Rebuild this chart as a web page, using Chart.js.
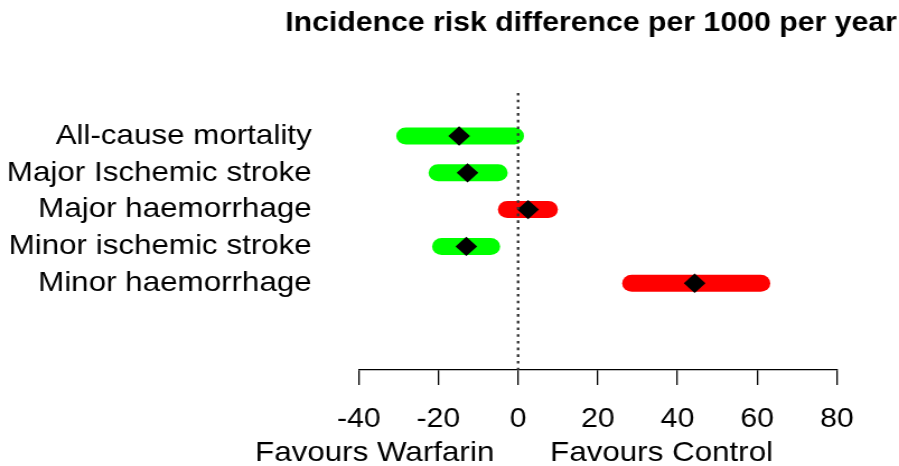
<!DOCTYPE html>
<html>
<head>
<meta charset="utf-8">
<title>Incidence risk difference</title>
<script src="https://cdn.jsdelivr.net/npm/chart.js@4.4.1/dist/chart.umd.min.js"></script>
<style>
    html, body { margin: 0; padding: 0; background: #fff; overflow: hidden; }
    /* plot is laid out narrow and widened to the page width */
    #wrap { width: 803px; height: 466px; transform: scaleX(1.1196); transform-origin: 0 0; }
</style>
</head>
<body>
<div id="wrap"><canvas id="forest" width="803" height="466"></canvas></div>
<script>
// Outcomes, top to bottom
const categories = ['All-cause mortality', 'Major Ischemic stroke', 'Major haemorrhage', 'Minor ischemic stroke', 'Minor haemorrhage'];
// Risk difference per 1000 per year, with interval limits
const estimates = [-14.8, -12.7, 2.5, -13.0, 44.3];
const lower = [-28.2, -20.1, -2.7, -19.2, 28.5];
const upper = [-0.9, -5.0, 7.6, -6.9, 60.9];
const xTicks = [-40, -20, 0, 20, 40, 60, 80];
const sideLabels = ['Favours Warfarin', 'Favours Control'];
const sideAt = [-36, 36];
const titleText = 'Incidence risk difference per 1000 per year';

const FONT = '"Liberation Sans", Arial, Helvetica, sans-serif';
Chart.defaults.font.family = FONT;
Chart.defaults.color = '#000';

const yMin = -0.17, yMax = 7.36;

// one thick bar per outcome, green when it favours warfarin, red otherwise
const intervalSets = categories.map((c, i) => ({
    label: c,
    data: [{ x: lower[i], y: i + 1 }, { x: upper[i], y: i + 1 }],
    showLine: true,
    borderColor: estimates[i] > 0 ? '#ff0000' : '#00ff00',
    borderWidth: 17,
    borderCapStyle: 'round',
    pointRadius: 0,
    clip: false,
    order: 3
}));

const pointSet = {
    label: 'estimate',
    data: estimates.map((v, i) => ({ x: v, y: i + 1 })),
    pointStyle: 'rectRot',
    pointRadius: 9.7,
    backgroundColor: '#000',
    borderWidth: 0,
    order: 2
};

// no-difference reference line
const zeroSet = {
    label: 'zero',
    data: [{ x: 0, y: yMin }, { x: 0, y: yMax }],
    showLine: true,
    borderColor: '#333',
    borderWidth: 2.3,
    borderDash: [2.6, 4.1],
    pointRadius: 0,
    order: 1
};

const extraText = {
    id: 'extraText',
    afterDraw(chart) {
        const ctx = chart.ctx;
        const xs = chart.scales.x;
        ctx.save();
        ctx.fillStyle = '#000';
        ctx.font = 'bold 27px ' + FONT;
        ctx.textAlign = 'right';
        ctx.textBaseline = 'alphabetic';
        ctx.fillText(titleText, chart.width - 2, 31);

        ctx.font = '28px ' + FONT;
        ctx.textAlign = 'center';
        sideLabels.forEach((t, i) => {
            ctx.fillText(t, xs.getPixelForValue(sideAt[i]), 461);
        });
        ctx.restore();
    }
};

new Chart(document.getElementById('forest'), {
    type: 'scatter',
    data: { datasets: [...intervalSets, pointSet, zeroSet] },
    options: {
        responsive: false,
        animation: false,
        layout: { padding: { top: 93, right: 55.5, left: 0, bottom: 0 } },
        plugins: {
            legend: { display: false },
            tooltip: { enabled: false }
        },
        scales: {
            x: {
                type: 'linear',
                position: 'bottom',
                min: -40,
                max: 80,
                afterBuildTicks: s => { s.ticks = xTicks.map(v => ({ value: v })); },
                afterFit: s => { s.height = 96; },
                grid: { display: true, drawOnChartArea: false, drawTicks: true, tickLength: 15, color: '#000', lineWidth: 1.3 },
                border: { display: true, color: '#000', width: 1.3 },
                ticks: { font: { size: 27 }, padding: 18, maxRotation: 0, autoSkip: false, color: '#000' }
            },
            y: {
                type: 'linear',
                reverse: true,
                min: yMin,
                max: yMax,
                afterBuildTicks: s => { s.ticks = categories.map((c, i) => ({ value: i + 1 })); },
                afterFit: s => { s.width = 320.4; },
                grid: { display: false },
                border: { display: false },
                ticks: {
                    font: { size: 28 },
                    padding: 34,
                    color: '#000',
                    autoSkip: false,
                    callback: v => categories[v - 1]
                }
            }
        }
    },
    plugins: [extraText]
});
</script>
</body>
</html>
